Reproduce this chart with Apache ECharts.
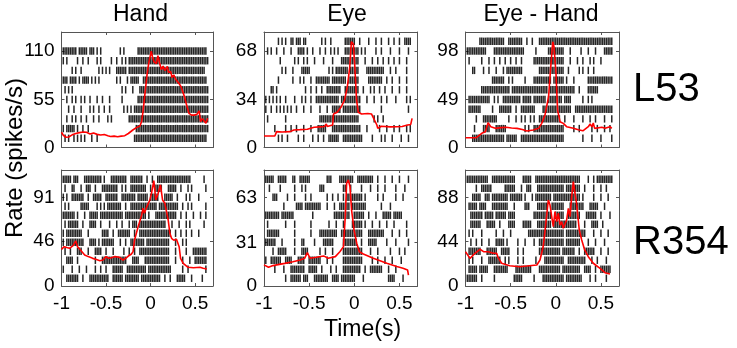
<!DOCTYPE html>
<html><head><meta charset="utf-8">
<script src="https://cdn.jsdelivr.net/npm/echarts@6/dist/echarts.min.js"></script>
<style>html,body{margin:0;padding:0;background:#fff}#c{width:737px;height:348px}</style>
</head><body><div id="c"></div>
<script>
// ---------- data ----------
const panelTitles = ['Hand', 'Eye', 'Eye - Hand'];
const rowLabels = ['L53', 'R354'];
const xTickLabels = [-1, -0.5, 0, 0.5];
const xRange = [-1, 0.7];
const yTicksL53 = [[0, 55, 110], [0, 34, 68], [0, 49, 98]];
const yTicksR354 = [[0, 46, 91], [0, 31, 63], [0, 44, 88]];
const yMaxL53 = [132, 81.6, 117.6];
const yMaxR354 = [119.2, 82.5, 115.3];

// PSTH firing rate (spikes/s) as [time s, rate]
const psthHandL53 = [[-1,17.4],[-0.98,14],[-0.95,11.7],[-0.92,12],[-0.88,14.5],[-0.84,16],[-0.8,17],[-0.75,17.8],[-0.72,17.4],[-0.68,15.5],[-0.64,16.5],[-0.6,15],[-0.56,14.3],[-0.52,14.8],[-0.48,13.5],[-0.45,12.6],[-0.41,13],[-0.37,12.2],[-0.33,13],[-0.29,13.5],[-0.27,13.2],[-0.25,16],[-0.23,18],[-0.2,20],[-0.16,22.7],[-0.12,24.6],[-0.1,30],[-0.083,43],[-0.06,65],[-0.038,85],[-0.02,97],[0.007,110],[0.02,104],[0.037,98],[0.05,100],[0.065,96],[0.082,105],[0.1,97],[0.12,89],[0.14,93],[0.16,88],[0.188,92.6],[0.2,86],[0.226,86.8],[0.24,80],[0.26,83],[0.28,78],[0.3,77],[0.32,73],[0.34,69.7],[0.36,64],[0.38,58],[0.4,50],[0.43,39],[0.46,37],[0.49,37],[0.52,38],[0.545,41.8],[0.56,29.6],[0.58,33],[0.6,35],[0.62,27.7],[0.64,33.5]];
const psthEyeL53 = [[-1,8.1],[-0.88,8.1],[-0.86,11.2],[-0.8,11],[-0.71,11.2],[-0.67,12.4],[-0.6,12.6],[-0.52,12.9],[-0.445,14.3],[-0.38,14.6],[-0.33,14.8],[-0.31,16.6],[-0.3,14.8],[-0.24,15.9],[-0.23,23.7],[-0.19,24.9],[-0.144,28.8],[-0.107,33.6],[-0.077,43],[-0.05,57],[-0.032,74.8],[-0.02,76],[-0.01,73],[0.006,57],[0.025,33.6],[0.044,24.9],[0.081,23.7],[0.15,24],[0.19,23.7],[0.25,15.9],[0.26,13.5],[0.3,15],[0.4,14.6],[0.53,14.8],[0.59,15.9],[0.625,16.3],[0.64,20.6]];
const psthEyeHandL53 = [[-1,10],[-0.88,10],[-0.82,14.4],[-0.78,16],[-0.75,25.3],[-0.72,21.2],[-0.67,19.5],[-0.61,20.2],[-0.55,20.6],[-0.49,19.8],[-0.43,19.5],[-0.37,18.3],[-0.32,16.8],[-0.25,17.8],[-0.19,19.5],[-0.156,24.6],[-0.12,33],[-0.08,51.7],[-0.056,82],[-0.034,107.7],[-0.02,102.6],[0.002,75.5],[0.02,38],[0.047,26.3],[0.083,24.6],[0.12,21.2],[0.195,19.5],[0.25,18],[0.3,17],[0.36,21.2],[0.38,23.9],[0.4,21],[0.415,25],[0.43,19.5],[0.51,20.6],[0.545,19.5],[0.6,21.2],[0.62,19.5]];
const psthHandR354 = [[-1,37.7],[-0.97,40.4],[-0.94,39.5],[-0.91,38.7],[-0.87,41.5],[-0.84,46.3],[-0.82,40.4],[-0.8,42.2],[-0.78,36.3],[-0.74,31.9],[-0.7,30.2],[-0.65,28.4],[-0.6,27],[-0.57,26],[-0.535,26.7],[-0.5,30.2],[-0.47,28.5],[-0.44,29],[-0.4,30.2],[-0.35,29.5],[-0.31,26.7],[-0.28,28.5],[-0.25,30.8],[-0.215,32.9],[-0.197,35.3],[-0.18,47.3],[-0.14,61],[-0.1,73],[-0.085,79.9],[-0.07,74.8],[-0.05,80],[-0.028,81.5],[-0.01,88],[0.01,95.3],[0.036,108.3],[0.058,88.4],[0.085,95.3],[0.11,103.9],[0.134,88.4],[0.16,85],[0.197,67.9],[0.216,54.2],[0.235,49],[0.26,47],[0.29,48],[0.32,40.4],[0.336,28.4],[0.366,23.3],[0.42,19.2],[0.48,18.8],[0.554,19.2],[0.59,18.2],[0.61,19.5],[0.63,17.5]];
const psthEyeR354 = [[-1,15],[-0.95,13.3],[-0.9,14.5],[-0.86,15],[-0.77,16.1],[-0.68,17.3],[-0.6,18.5],[-0.55,19.7],[-0.52,23.7],[-0.49,19.7],[-0.42,20.4],[-0.34,21.4],[-0.29,19.7],[-0.21,20.9],[-0.16,24.4],[-0.12,28],[-0.1,49.3],[-0.085,73],[-0.066,75.4],[-0.048,70.7],[-0.03,54],[-0.003,39.9],[0.027,30.4],[0.056,24.4],[0.1,22.8],[0.21,19.7],[0.36,16.1],[0.47,13.8],[0.54,12.6],[0.59,11.4],[0.6,7.8]];
const psthEyeHandR354 = [[-1,34.1],[-0.95,27.5],[-0.895,32.5],[-0.84,36.5],[-0.8,34.1],[-0.75,34],[-0.69,32.5],[-0.655,32.5],[-0.64,28.5],[-0.6,22.6],[-0.51,20.2],[-0.4,19.2],[-0.32,19.9],[-0.21,20.9],[-0.175,25.8],[-0.14,39],[-0.12,54],[-0.083,85.5],[-0.064,80.5],[-0.045,68.9],[-0.028,59],[-0.009,73.9],[0.01,63.9],[0.028,72.3],[0.047,60.6],[0.065,63.9],[0.083,57.4],[0.12,65.6],[0.139,77.2],[0.157,68.9],[0.176,88.8],[0.194,103.7],[0.213,92.1],[0.23,82.2],[0.26,55.7],[0.287,45.7],[0.32,35.8],[0.36,29.1],[0.415,22.6],[0.49,17.6],[0.545,13.2],[0.6,11.9]];

// Raster: each trial row (top first) lists occupied 20-ms bins counted from -1 s ("a-b" = consecutive bins)
const rasterBin = 0.02;
const rasterHandL53 = ["1-8,10-14,16-18,20,22,33,35,43-81","1,3,9,12,15,20,22,28,31,34,36,38-82","6,8,11,21,23,25,27,31-36,38-80","1-3,5-8,10,12-15,17,19,21,31,33,37,39-43,46-81","2,4,6,34,36,40,44-82","3,6,8,11,13,16,20,23,27,34,43-82","4,7,11,16,18,21,24,27,35,37,39,41-82","3,6,8,11,14,18,21,26,28,38-82","1,3-7,9,12,15,42-82","2,4,7,9,11,13,17,20,41-81"];
const rasterEyeL53 = ["8,10,12,15,16,18-20,22,23,32,34,37,45-50,53,58,62,65,69,72,75,78-81","2,4,7,11,15,19-22,24,27,31,34,37,39,41,45-52,54,56,62,65,70,75,80","9,17,19,22,24,28,33,38,43-52,56,60,63,66,69,72,75,79","10,12,16,21-25,36,38,40-46,48-52,57-66,70,73,79","8,16,20,22,26,29-36,38-45,47-52,58-65,68,71,75,79","4,5,7,23,26,29,32,35-42,45-52,55,59,61,64,67,71,75,79","1,3,5,7,9,12,17,21,23,26,29-41,43-53,57,61,65,68,73,79,81","1,4,7,9,11,13,15,18,22,26,31,35,38-42,44-53,65,80","2,12,31-52,61,63,66","6,12,15,18,22,26,30-34,38-53,57,64,68,72,75,79,81","8,10,13,19,22,27,30,33,36-41,44-54,60,65,67,71,76,80"];
const rasterEyeHandL53 = ["8-21,24-31,34,37,41-81","1-11,16-32,39,46-54,58,64,68,72,77-81","2,9,13,16,19,22,25,28,31,38-54,58,62,65,69,71,75","4,5,10,13,17,21,23-31,41-54,57,63,65,68,71","15-21,24,26,33,38-47,49-54,56,60,68-81","9-24,26-45,47-60,63,68-73","2-13,16,18,21-30,32-36,38-44,46-53,55-58,65,68,70","2-8,15,19-25,28,31-38,43-58,61-81","6,10-17,24,28,31,33,36,38,41-52,55,60,65,69,72,77,81","5,10-13,17-22,33,35,38-54,60,63,70,73,77,80","4-21,23-28,31-54,65,70,75,81"];
const rasterHandR354 = ["1-5,7-9,13-22,24,28-36,39-45,48,51,54-72,80","2,6,7,11,14-16,19,23-31,34,36,39-47,50,53-56,60-64,67,71,73,81","1,3,6-12,15,18-22,25-31,34-41,43-48,50-54,58-62,65,70,72,77","2,4,11-15,20,22,24,26-33,36,39-53,55-65,68,71,73,81","1-7,9,13,16-20,22-34,36-47,49,53-64,67,70,74,78,81","2,4-9,12,16-19,22,27,31,34,38,40-42,44-58,62,66,70,72,80","1,3-11,15,23-26,29,32-38,41,44-61,64,67,70,73,77","1,3-12,16-19,21,23-29,33,36,39-46,48-60,64,68,70","2,5,9-11,15,19-22,25,29,35,38,41,44-60,64,70,74-81","3-6,9,19,23-36,40-43,47-60,64,68,72,75-81","1,6,10,14,19,22,25,29-34,37-47,49-61,68,71,81","3-9,12,16-26,29-34,36-43,45-55,58,61,65-69,73,79"];
const rasterEyeR354 = ["1-5,8-12,16,17,20-25,35-37,42-49,52-60,63,67,71,75,80","3,9,17,21,23,31-33,44,45,48,54,59,63,67,73,78","5-7,13,17,23,26,35,38,41,44,46-54,56,63,66,73,77","11,18-21,23-31,35,39,42-47,49-56,65,70","1-8,10-16,27,39-47,50-55,58,62,66-70,72-76","2,12,17,26,36,40,44,49-54,56,60,64,68,72,79","2-8,17,26,31-40,43-54,58-66,71,75,79","1-6,10,17,21,22,28,33-38,44-51,54,58-62,68,73,80","5,8-12,17,21-24,31,34,38,44-54,59,63,70,75,78","1,4-9,12-15,19-22,25-31,35,38,44-54,60,63,67,71,76","6,11,15-22,25-29,32,37,40,44-53,56,59-65,69,73","12,15-20,22-24,28-35,38-41,43-50,55,69-72,77"];
const rasterEyeHandR354 = ["1-12,15-27,32-36,39-63,68,71,73-81","6,9-14,22-27,31,34-36,40-54,56-63,66,71,75,78","4-8,11-13,15-23,25-31,33,37,39-47,49-63,65,71,75,79","2-6,8-11,15-23,27,33-35,40-45,48-54,58-65,69-73,77","3-9,11-15,17-22,24-27,38-47,50-54,57-63,67-72,75,80","3-8,12-16,19,24-27,32-36,40-47,49-61,66,70-73,76","2,4,9,17,21,25,35-54,56-66,71,75,79","3,6,9,13,17-21,23,29,33,38,41-54,56-63,68,72,77","2-8,12-17,20-24,29,32,41-52,54-60,63,66-71,75,79","2,4,9,13-19,22,24,29,32,39,44-54,57-66,70,73,78","2-6,8-12,16-23,28-36,41-52,54-63,66-69,72,75-80","1-6,9,16,27-31,38,43-54,56-64,69,72,78"];

// ---------- build ----------
function decodeRow(s) {
  const out = [];
  s.split(',').forEach(part => {
    const ab = part.split('-').map(Number);
    if (ab.length === 1) out.push(ab[0]);
    else for (let k = ab[0]; k <= ab[1]; k++) out.push(k);
  });
  return out;
}

const cols = [{left: 61.5, width: 151.5}, {left: 264, width: 153.5}, {left: 465.5, width: 153.5}];
const rowsCfg = [
  {top: 32, height: 115.5, rMin: -0.95, rMax: 10.96, yTicks: yTicksL53, yMax: yMaxL53,
   psth: [psthHandL53, psthEyeL53, psthEyeHandL53], raster: [rasterHandL53, rasterEyeL53, rasterEyeHandL53], xLabels: false},
  {top: 170, height: 116, rMin: -0.86, rMax: 12.03, yTicks: yTicksR354, yMax: yMaxR354,
   psth: [psthHandR354, psthEyeR354, psthEyeHandR354], raster: [rasterHandR354, rasterEyeR354, rasterEyeHandR354], xLabels: true}
];

const FONT = '"Liberation Sans", Arial, Helvetica, sans-serif';
const frameColor = '#555';
const grid = [], xAxis = [], yAxis = [], series = [];

rowsCfg.forEach((rc, ri) => {
  cols.forEach((cc, ci) => {
    const p = ri * 3 + ci;
    grid.push({left: cc.left, top: rc.top, width: cc.width, height: rc.height, containLabel: false});
    const xTickVals = xTickLabels.filter(v => v > xRange[0] && v < xRange[1]);
    const xBase = {
      type: 'value', gridIndex: p, min: xRange[0], max: xRange[1],
      axisLine: {show: true, onZero: false, lineStyle: {color: frameColor, width: 1}},
      axisTick: {show: true, inside: true, length: 3, customValues: xTickVals, lineStyle: {color: frameColor}},
      splitLine: {show: false}
    };
    xAxis.push(Object.assign({}, xBase, {
      position: 'bottom',
      axisLabel: {show: rc.xLabels, customValues: xTickLabels, fontSize: 19, color: '#000', fontFamily: FONT, margin: 8}
    }));
    xAxis.push(Object.assign({}, xBase, {position: 'top', axisLabel: {show: false}}));
    const ticks = rc.yTicks[ci];
    const yBase = {
      type: 'value', gridIndex: p, min: 0, max: rc.yMax[ci],
      axisLine: {show: true, onZero: false, lineStyle: {color: frameColor, width: 1}},
      axisTick: {show: true, inside: true, length: 3, customValues: ticks.slice(1), lineStyle: {color: frameColor}},
      splitLine: {show: false}
    };
    yAxis.push(Object.assign({}, yBase, {
      position: 'left',
      axisLabel: {show: true, customValues: ticks, fontSize: 19, color: '#000', fontFamily: FONT, margin: 7}
    }));
    yAxis.push(Object.assign({}, yBase, {position: 'right', axisLabel: {show: false}}));
    yAxis.push({type: 'value', gridIndex: p, min: rc.rMin, max: rc.rMax, show: false, splitLine: {show: false}});

    const rows = rc.raster[ci];
    const pts = [];
    rows.forEach((s, i) => {
      const j = rows.length - 1 - i;
      decodeRow(s).forEach(b => pts.push([xRange[0] + b * rasterBin, j]));
    });
    series.push({
      type: 'scatter', xAxisIndex: 2 * p, yAxisIndex: 3 * p + 2, data: pts,
      symbol: 'rect', symbolSize: [1.5, 7.4], silent: true, z: 2,
      itemStyle: {color: '#000', opacity: 0.85}
    });
    series.push({
      type: 'line', xAxisIndex: 2 * p, yAxisIndex: 3 * p, data: rc.psth[ci],
      showSymbol: false, symbol: 'none', silent: true, z: 3,
      lineStyle: {color: '#ff0000', width: 1.6}
    });
  });
});

const titleX = [140.5, 347, 541];
const graphic = [];
panelTitles.forEach((t, i) => graphic.push({
  type: 'text', x: titleX[i], y: 15,
  style: {text: t, font: '23px ' + FONT, fill: '#000', align: 'center', verticalAlign: 'middle'}
}));
const rowLabelY = [89.5, 243];
rowLabels.forEach((t, i) => graphic.push({
  type: 'text', x: 633, y: rowLabelY[i],
  style: {text: t, font: '40px ' + FONT, fill: '#000', align: 'left', verticalAlign: 'middle'}
}));
graphic.push({
  type: 'text', x: 15, y: 158, rotation: Math.PI / 2,
  style: {text: 'Rate (spikes/s)', font: '24px ' + FONT, fill: '#000', align: 'center', verticalAlign: 'middle'}
});
graphic.push({
  type: 'text', x: 362.5, y: 330,
  style: {text: 'Time(s)', font: '23px ' + FONT, fill: '#000', align: 'center', verticalAlign: 'middle'}
});

const chart = echarts.init(document.getElementById('c'), null, {renderer: 'canvas'});
chart.setOption({
  animation: false,
  backgroundColor: '#fff',
  grid, xAxis, yAxis, series, graphic
});
</script></body></html>
